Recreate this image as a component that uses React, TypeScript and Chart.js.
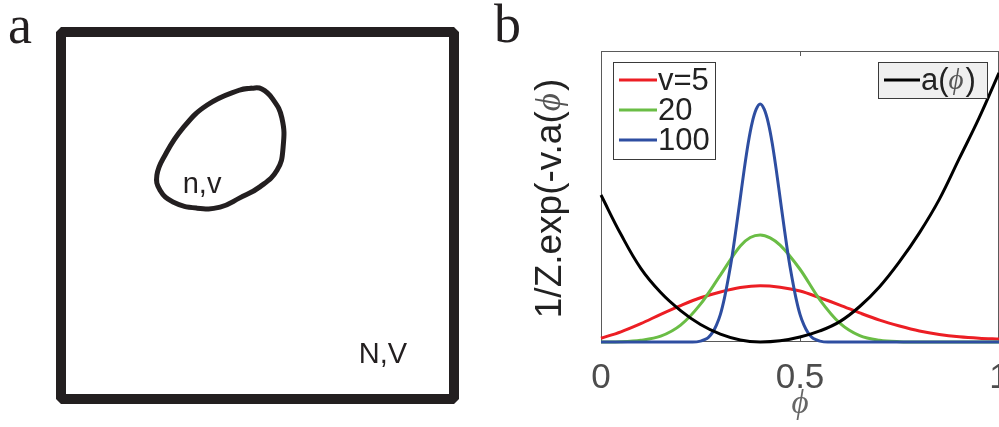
import React, { useEffect, useRef } from "react";
import { Chart, registerables } from "chart.js";

Chart.register(...registerables);

// ---------- Panel b data ----------
const xTickValues = [0, 0.5, 1];
const seriesLabels = ["v=5", "20", "100"];
const potentialLabel = ["a(", "\u03D5", ")"];
const yTitleParts = ["1/Z.exp(-v.a(", "\u03D5", ")"];
const xTitle = "\u03D5";

const phiRed = [0, 0.05, 0.1, 0.15, 0.2, 0.25, 0.3, 0.35, 0.4, 0.45, 0.5, 0.55, 0.6, 0.65, 0.7, 0.75, 0.8, 0.85, 0.9, 0.95, 1];
const red = [0.013, 0.035, 0.063, 0.095, 0.125, 0.152, 0.172, 0.187, 0.193, 0.188, 0.175, 0.152, 0.127, 0.1, 0.075, 0.055, 0.038, 0.026, 0.018, 0.013, 0.01];

const phiGreen = [0, 0.05, 0.1, 0.15, 0.2, 0.25, 0.3, 0.35, 0.375, 0.4, 0.425, 0.45, 0.5, 0.55, 0.6, 0.65, 0.7, 0.75, 0.8, 0.9, 1];
const green = [0, 0.001, 0.006, 0.02, 0.058, 0.13, 0.23, 0.33, 0.359, 0.368, 0.358, 0.333, 0.25, 0.145, 0.065, 0.022, 0.006, 0.001, 0, 0, 0];

const phiBlue = [0, 0.2, 0.23, 0.25, 0.26, 0.27, 0.28, 0.29, 0.3, 0.31, 0.32, 0.33, 0.34, 0.35, 0.36, 0.37, 0.38, 0.39, 0.4, 0.41, 0.42, 0.43, 0.44, 0.45, 0.46, 0.47, 0.48, 0.49, 0.5, 0.51, 0.52, 0.53, 0.54, 0.55, 0.57, 0.6, 1];
const blue = [0, 0, 0, 0.003, 0.008, 0.016, 0.032, 0.058, 0.095, 0.15, 0.22, 0.3, 0.395, 0.495, 0.595, 0.685, 0.755, 0.8, 0.818, 0.8, 0.755, 0.685, 0.595, 0.495, 0.395, 0.3, 0.22, 0.15, 0.095, 0.058, 0.032, 0.016, 0.008, 0.003, 0, 0, 0];

const phiBlack = [0, 0.05, 0.1, 0.15, 0.2, 0.25, 0.3, 0.35, 0.4, 0.45, 0.5, 0.55, 0.6, 0.65, 0.7, 0.75, 0.8, 0.85, 0.9, 0.95, 1];
const black = [0.505, 0.37, 0.253, 0.17, 0.108, 0.06, 0.027, 0.007, 0, 0.004, 0.017, 0.038, 0.07, 0.122, 0.19, 0.276, 0.375, 0.49, 0.63, 0.77, 0.925];

// ---------- Panel a data (schematic shapes, unit square coordinates) ----------
const boxU = [0, 0, 1, 1, 0, 0];
const boxV = [0, 1, 1, 0, 0, 1];
const blobU = [0.486, 0.455, 0.372, 0.31, 0.265, 0.244, 0.252, 0.285, 0.346, 0.405, 0.455, 0.506, 0.55, 0.565, 0.562, 0.537, 0.511, 0.486, 0.455];
const blobV = [0.847, 0.842, 0.801, 0.738, 0.665, 0.61, 0.569, 0.537, 0.52, 0.523, 0.548, 0.578, 0.624, 0.684, 0.766, 0.82, 0.845, 0.847, 0.842];
const regionLabels = ["n,v", "N,V"];
const regionLabelU = [0.359, 0.819];
const regionLabelV = [0.561, 0.098];

const SANS = '"Liberation Sans", Arial, Helvetica, "DejaVu Sans", sans-serif';
const SERIF = '"Liberation Serif", "Times New Roman", "DejaVu Serif", serif';
const PHI_FONT = '"Liberation Serif", "DejaVu Serif", serif';
const INK = "#231f20";
const COLORS = ["rgb(236,30,36)", "rgb(106,189,69)", "rgb(46,78,161)", "#000000"];

const pts = (xs: number[], ys: number[]) => xs.map((x, i) => ({ x, y: ys[i] }));

function fontsFor(size: number) {
  return [`${size}px ${SANS}`, `italic ${Math.round(size * 0.95)}px ${PHI_FONT}`, `${size}px ${SANS}`];
}
// draw text pieces: sans / italic serif phi / sans, left aligned from x, middle baseline
function drawMixed(ctx: any, parts: string[], x: number, y: number, size: number, color: string, phiColor: string) {
  const fonts = fontsFor(size);
  let cx = x;
  parts.forEach((p, i) => {
    ctx.font = fonts[i];
    ctx.fillStyle = i === 1 ? phiColor : color;
    ctx.fillText(p, cx, y);
    cx += ctx.measureText(p).width + (i === 1 ? 2 : 0);
  });
  return cx - x;
}
function measureMixed(ctx: any, parts: string[], size: number) {
  const fonts = fontsFor(size);
  let w = 0;
  parts.forEach((p, i) => {
    ctx.font = fonts[i];
    w += ctx.measureText(p).width + (i === 1 ? 2 : 0);
  });
  return w;
}

export default function App() {
  const refA = useRef<HTMLCanvasElement | null>(null);
  const refB = useRef<HTMLCanvasElement | null>(null);

  useEffect(() => {
    const labelPlugin = {
      id: "regionLabels",
      afterDatasetsDraw(chart: any) {
        const { ctx, scales } = chart;
        ctx.save();
        ctx.fillStyle = INK;
        ctx.font = `29px ${SANS}`;
        ctx.textAlign = "center";
        ctx.textBaseline = "alphabetic";
        regionLabels.forEach((t, i) => {
          ctx.fillText(t, scales.x.getPixelForValue(regionLabelU[i]), scales.y.getPixelForValue(regionLabelV[i]));
        });
        ctx.restore();
      },
    };

    const chartA = new Chart(refA.current as HTMLCanvasElement, {
      type: "scatter",
      data: {
        datasets: [
          {
            data: pts(boxU, boxV),
            showLine: true,
            borderColor: INK,
            borderWidth: 10,
            borderJoinStyle: "bevel",
            pointRadius: 0,
            tension: 0,
          },
          {
            data: pts(blobU, blobV),
            showLine: true,
            borderColor: INK,
            borderWidth: 5,
            pointRadius: 0,
            tension: 0.45,
          },
        ],
      } as any,
      options: {
        animation: false,
        responsive: false,
        events: [],
        clip: false,
        layout: { padding: { left: 61, right: 46, top: 32, bottom: 28 } },
        scales: {
          x: { type: "linear", min: 0, max: 1, display: false },
          y: { type: "linear", min: 0, max: 1, display: false },
        },
        plugins: { legend: { display: false }, tooltip: { enabled: false } },
      } as any,
      plugins: [labelPlugin],
    });

    const framePlugin = {
      id: "frame",
      beforeDatasetsDraw(chart: any) {
        const { ctx, chartArea: ca, scales } = chart;
        ctx.save();
        ctx.strokeStyle = "#5a5a5a";
        ctx.lineWidth = 1;
        ctx.strokeRect(ca.left + 0.5, ca.top + 0.5, ca.right - ca.left - 1, ca.bottom - ca.top - 1);
        ctx.beginPath();
        xTickValues.forEach((v) => {
          const px = Math.round(scales.x.getPixelForValue(v)) + 0.5;
          ctx.moveTo(px, ca.bottom);
          ctx.lineTo(px, ca.bottom - 5);
          ctx.moveTo(px, ca.top);
          ctx.lineTo(px, ca.top + 5);
        });
        ctx.stroke();
        // rotated y title
        const cy = (ca.top + ca.bottom) / 2 + 2;
        const cx = 51;
        ctx.translate(cx, cy);
        ctx.rotate(-Math.PI / 2);
        ctx.textBaseline = "middle";
        ctx.textAlign = "left";
        const w = measureMixed(ctx, yTitleParts, 37);
        drawMixed(ctx, yTitleParts, -w / 2, 0, 37, "#222", "#555");
        ctx.restore();
      },
      afterDatasetsDraw(chart: any) {
        const { ctx, chartArea: ca, data } = chart;
        const ds = data.datasets;
        ctx.save();
        ctx.textAlign = "left";
        ctx.textBaseline = "middle";
        // legend 1
        const l1x = ca.left + 12, l1y = ca.top + 11, l1w = 102, l1h = 97;
        ctx.fillStyle = "#ffffff";
        ctx.fillRect(l1x, l1y, l1w, l1h);
        ctx.strokeStyle = "#3a3a3a";
        ctx.lineWidth = 1;
        ctx.strokeRect(l1x + 0.5, l1y + 0.5, l1w, l1h);
        for (let i = 0; i < 3; i++) {
          const y = l1y + 18 + i * 30;
          ctx.strokeStyle = ds[i].borderColor;
          ctx.lineWidth = 3;
          ctx.beginPath();
          ctx.moveTo(l1x + 6, y);
          ctx.lineTo(l1x + 44, y);
          ctx.stroke();
          ctx.fillStyle = "#222";
          ctx.font = `31px ${SANS}`;
          ctx.fillText(ds[i].label, l1x + 45, y + 1);
        }
        // legend 2
        const l2w = 109, l2h = 36;
        const l2x = ca.right - 12 - l2w, l2y = ca.top + 11;
        ctx.fillStyle = "#efefef";
        ctx.fillRect(l2x, l2y, l2w, l2h);
        ctx.strokeStyle = "#3a3a3a";
        ctx.lineWidth = 1;
        ctx.strokeRect(l2x + 0.5, l2y + 0.5, l2w, l2h);
        const y2 = l2y + 18;
        ctx.strokeStyle = ds[3].borderColor;
        ctx.lineWidth = 3;
        ctx.beginPath();
        ctx.moveTo(l2x + 6, y2);
        ctx.lineTo(l2x + 42, y2);
        ctx.stroke();
        drawMixed(ctx, potentialLabel, l2x + 43, y2 + 1, 31, "#222", "#555");
        ctx.restore();
      },
    };

    const common = { pointRadius: 0, borderWidth: 3, fill: false, clip: false };
    const chartB = new Chart(refB.current as HTMLCanvasElement, {
      type: "line",
      data: {
        datasets: [
          { label: seriesLabels[0], data: pts(phiRed, red), borderColor: COLORS[0], order: 3, cubicInterpolationMode: "monotone", ...common },
          { label: seriesLabels[1], data: pts(phiGreen, green), borderColor: COLORS[1], order: 2, cubicInterpolationMode: "monotone", ...common },
          { label: seriesLabels[2], data: pts(phiBlue, blue), borderColor: COLORS[2], order: 1, cubicInterpolationMode: "monotone", ...common },
          { label: potentialLabel.join(""), data: pts(phiBlack, black), borderColor: COLORS[3], order: 0, tension: 0.4, ...common },
        ],
      } as any,
      options: {
        animation: false,
        responsive: false,
        events: [],
        layout: { padding: { top: 51, left: 0, right: 41, bottom: 0 } },
        scales: {
          x: {
            type: "linear",
            min: 0,
            max: 1,
            afterFit: (s: any) => { s.height = 85; },
            grid: { display: false },
            border: { display: false },
            afterBuildTicks: (s: any) => { s.ticks = xTickValues.map((v) => ({ value: v })); },
            ticks: { padding: 7, color: "#4d4d4d", font: { size: 35, family: SANS }, maxRotation: 0, autoSkip: false, callback: (v: any) => String(v) },
            title: { display: true, text: xTitle, color: "#666", font: { size: 33, family: PHI_FONT, style: "italic" }, padding: { top: 0, bottom: 3 } },
          },
          y: {
            type: "linear",
            min: 0,
            max: 1,
            afterFit: (s: any) => { s.width = 101; },
            grid: { display: false },
            border: { display: false },
            ticks: { display: false },
            title: { display: false },
          },
        },
        plugins: { legend: { display: false }, tooltip: { enabled: false } },
      } as any,
      plugins: [framePlugin],
    });

    return () => {
      chartA.destroy();
      chartB.destroy();
    };
  }, []);

  return (
    <div style={{ position: "fixed", left: 0, top: 0, width: 999, height: 427, overflow: "hidden", background: "#fff" }}>
      <canvas ref={refA} width={500} height={427} style={{ position: "absolute", left: 0, top: 0, width: 500, height: 427 }} />
      <canvas ref={refB} width={540} height={427} style={{ position: "absolute", left: 500, top: 0, width: 540, height: 427 }} />
      <span style={{ position: "absolute", left: 8, top: -2, font: `54px ${SERIF}`, lineHeight: "54px", color: INK }}>a</span>
      <span style={{ position: "absolute", left: 494, top: -3, font: `54px ${SERIF}`, lineHeight: "54px", color: INK }}>b</span>
    </div>
  );
}
